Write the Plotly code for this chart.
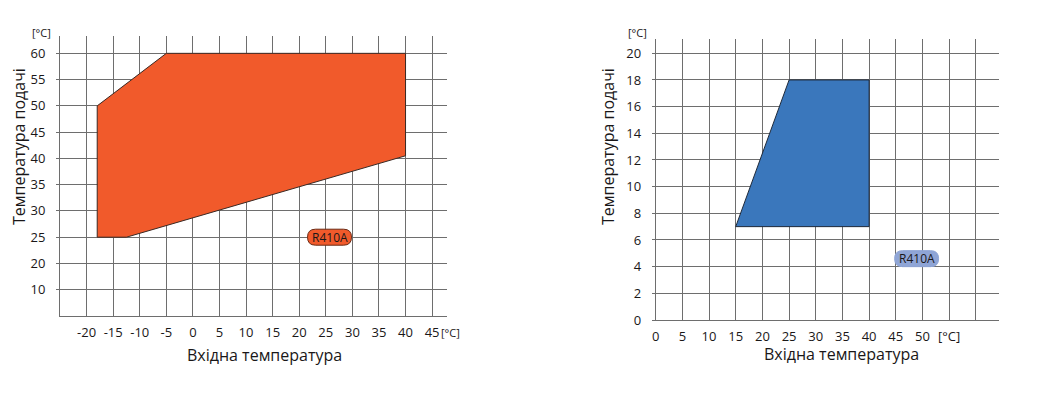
import plotly.graph_objects as go

# ---- data ----
# Left chart (heating, R410A)
heat_x = [-18, -5, 40, 40, -12.5, -18, -18]
heat_y = [50, 60, 60, 40.5, 25, 25, 50]
heat_xticks = [-20, -15, -10, -5, 0, 5, 10, 15, 20, 25, 30, 35, 40, 45]
heat_xticktext = ["-20", "-15", "-10", "-5", "0", "5", "10", "15", "20", "25", "30", "35", "40", "45"]
heat_yticks = [15, 20, 25, 30, 35, 40, 45, 50, 55, 60]
heat_yticktext = ["10", "20", "25", "30", "35", "40", "45", "50", "55", "60"]
heat_label_pos = (25.7, 25)

# Right chart (cooling, R410A)
cool_x = [15, 25, 40, 40, 15]
cool_y = [7, 18, 18, 7, 7]
cool_xticks = [0, 5, 10, 15, 20, 25, 30, 35, 40, 45, 50, 55, 60]
cool_xticktext = ["0", "5", "10", "15", "20", "25", "30", "35", "40", "45", "50", "[°C]", ""]
cool_yticks = [0, 2, 4, 6, 8, 10, 12, 14, 16, 18, 20]
cool_label_pos = (48.9, 4.6)

x_title = "Вхідна температура"
y_title = "Температура подачі"
unit = "[°C]"
refrigerant = "R410A"

FONT = "Open Sans, Noto Sans, DejaVu Sans"
TXT = "#1a1718"
GRID = "#6e6e6e"
W, H = 1037, 393
OFF = 8  # page body margin


def px(p):
    return (p - OFF) / W


def py(p):
    return 1 - (p - OFF) / H


fig = go.Figure()

fig.add_trace(go.Scatter(x=heat_x, y=heat_y, mode="lines", fill="toself",
                         fillcolor="#f15a2b", line=dict(color="#3a2a25", width=1),
                         xaxis="x", yaxis="y", hoverinfo="skip", showlegend=False))
fig.add_trace(go.Scatter(x=cool_x, y=cool_y, mode="lines", fill="toself",
                         fillcolor="#3a77bc", line=dict(color="#1f2a3a", width=1),
                         xaxis="x2", yaxis="y2", hoverinfo="skip", showlegend=False))

axis_common = dict(showgrid=True, gridcolor=GRID, gridwidth=1, zeroline=False,
                   showline=True, linecolor=GRID, linewidth=1, automargin=False,
                   tickfont=dict(family=FONT, size=13, color=TXT), fixedrange=True)

fig.update_layout(
    width=W, height=H,
    margin=dict(l=0, r=0, t=0, b=0),
    paper_bgcolor="white", plot_bgcolor="white",
    showlegend=False,
    xaxis=dict(domain=[px(60), px(447)], range=[-25, 47.8], tickvals=heat_xticks,
               ticktext=heat_xticktext, ticks="", ticklabelstandoff=4, anchor="y",
               **axis_common),
    yaxis=dict(domain=[py(316), py(36)], range=[10, 63.3], tickvals=heat_yticks,
               ticktext=heat_yticktext, ticks="outside", ticklen=3, tickcolor=GRID,
               ticklabelstandoff=8, anchor="x", **axis_common),
    xaxis2=dict(domain=[px(655.7), px(999.3)], range=[0, 64.4], tickvals=cool_xticks,
                ticktext=cool_xticktext, ticks="", ticklabelstandoff=4, anchor="y2",
                **axis_common),
    yaxis2=dict(domain=[py(320), py(39)], range=[0, 21.07], tickvals=cool_yticks,
                ticks="outside", ticklen=3, tickcolor=GRID, ticklabelstandoff=8,
                anchor="x2", **axis_common),
)


def pill(xref, yref, x, y, fill, border):
    path = ("M -14,-8 L 14,-8 Q 22,-8 22,0 Q 22,8 14,8 L -14,8 "
            "Q -22,8 -22,0 Q -22,-8 -14,-8 Z")
    fig.add_shape(type="path", path=path, xref=xref, yref=yref,
                  xsizemode="pixel", ysizemode="pixel", xanchor=x, yanchor=y,
                  fillcolor=fill, line=dict(color=border, width=1), layer="above")
    fig.add_annotation(x=x, y=y, xref=xref, yref=yref, text=refrigerant,
                       showarrow=False, font=dict(family=FONT, size=12, color=TXT))


pill("x", "y", heat_label_pos[0], heat_label_pos[1], "#f15a2b", "#6b2a14")
pill("x2", "y2", cool_label_pos[0], cool_label_pos[1], "#8fa5d6", "#8fa5d6")


def ann(x, y, text, size, angle=0):
    fig.add_annotation(x=px(x), y=py(y), xref="paper", yref="paper",
                       text=text, showarrow=False, textangle=angle,
                       xanchor="center", yanchor="middle",
                       font=dict(family=FONT, size=size, color=TXT))


# unit labels
ann(41, 33, unit, 11)
ann(450, 332, unit, 11)
ann(637, 33, unit, 11)
# axis titles
ann(264, 355, x_title, 16)
ann(841, 354, x_title, 16)
ann(19, 147, y_title, 16, -90)
ann(608, 147, y_title, 16, -90)

fig.write_html("out.html")
